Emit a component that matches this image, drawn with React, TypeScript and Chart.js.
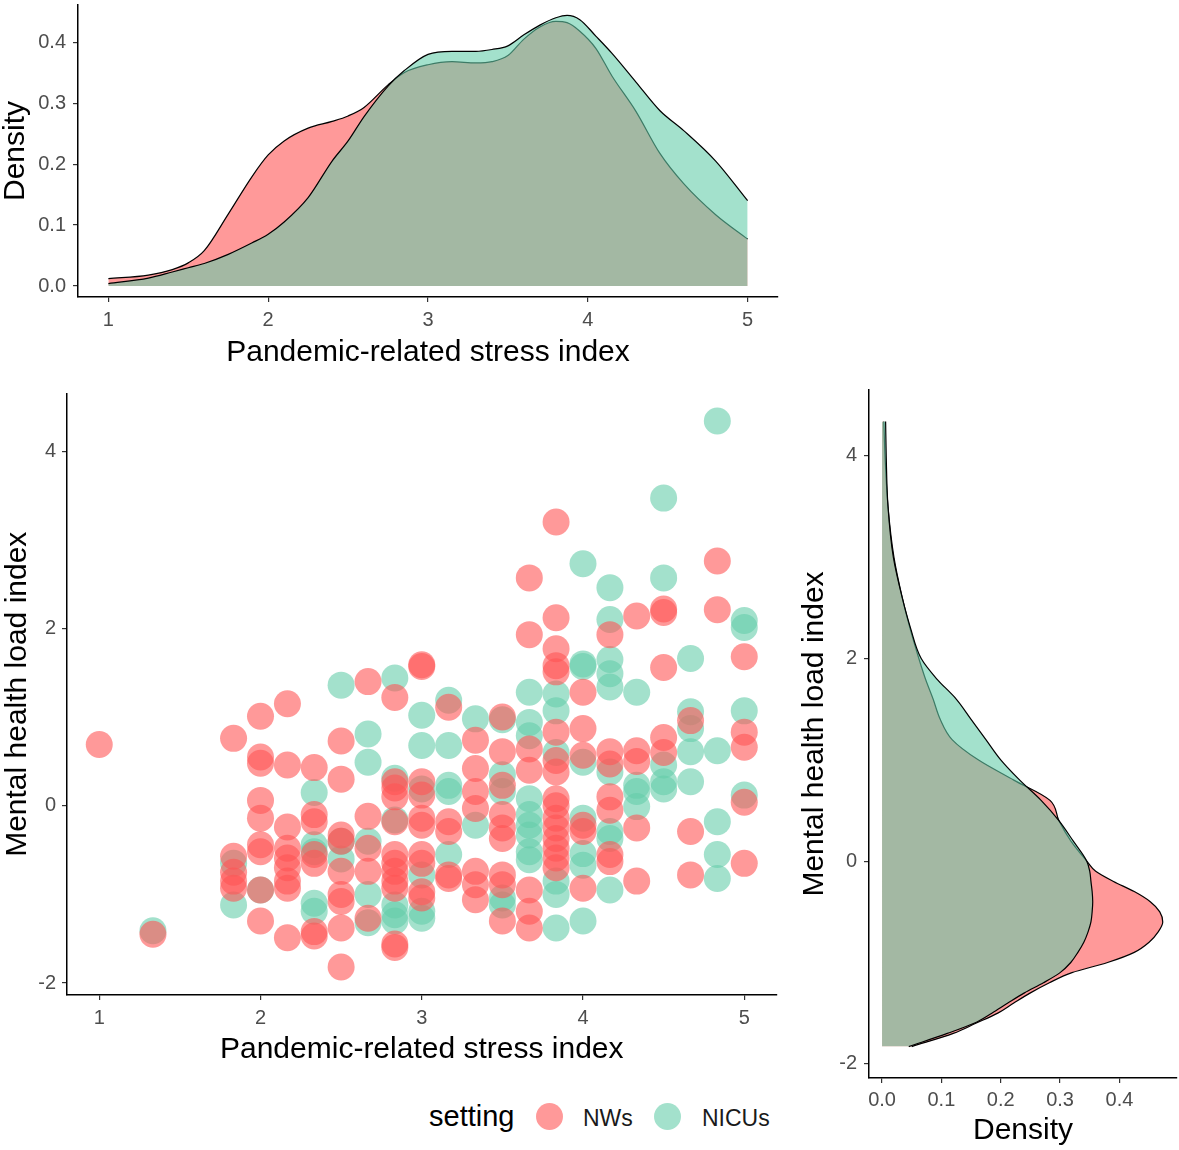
import React, { useEffect, useRef } from "react";
import { Chart, registerables } from "chart.js";

Chart.register(...registerables);

// ---------------- data ----------------
const stressTicks = [1, 2, 3, 4, 5];
const mentalTicks = [-2, 0, 2, 4];
const densityTicksTop = [0, 0.1, 0.2, 0.3, 0.4];
const densityTicksRight = [0, 0.1, 0.2, 0.3, 0.4];

// scatter: [stress index, mental health load values at that stress index]
const nwsColumns: [number, number[]][] = [
  [1.0, [0.69]],
  [1.333, [-1.45]],
  [1.833, [0.76, -0.57, -0.75, -0.85, -0.93]],
  [2.0, [1.01, 0.55, 0.48, 0.06, -0.14, -0.44, -0.52, -0.95, -1.3]],
  [2.167, [1.15, 0.46, -0.24, -0.48, -0.59, -0.7, -0.85, -0.93, -1.49]],
  [2.333, [0.43, -0.1, -0.18, -0.55, -0.65, -1.42, -1.47]],
  [2.5, [0.73, 0.3, -0.33, -0.4, -0.74, -1.0, -1.08, -1.38, -1.82]],
  [2.667, [1.4, -0.12, -0.48, -0.74, -1.27]],
  [2.833, [1.22, 0.27, 0.2, 0.1, -0.18, -0.55, -0.65, -0.74, -0.85, -0.93, -1.56, -1.6]],
  [3.0, [1.59, 1.57, 0.27, 0.12, -0.14, -0.22, -0.55, -0.65, -0.97, -1.04]],
  [3.167, [1.11, -0.18, -0.29, -0.78, -0.82]],
  [3.333, [0.74, 0.42, 0.16, -0.03, -0.74, -0.89, -1.06]],
  [3.5, [1.0, 0.61, 0.23, -0.1, -0.25, -0.37, -0.78, -0.89, -1.3]],
  [3.667, [2.57, 1.93, 0.64, 0.4, -0.95, -1.19, -1.38]],
  [3.833, [3.2, 2.12, 1.77, 1.58, 1.51, 0.83, 0.51, 0.38, 0.08, 0.0, -0.14, -0.25, -0.37, -0.48, -0.59, -0.7]],
  [4.0, [1.28, 0.87, 0.57, -0.22, -0.29, -0.93]],
  [4.167, [1.93, 0.61, 0.47, 0.1, -0.05, -0.55, -0.63]],
  [4.333, [2.14, 0.62, 0.5, -0.25, -0.85]],
  [4.5, [2.22, 2.18, 1.56, 0.77, 0.6]],
  [4.667, [0.96, -0.29, -0.78]],
  [4.833, [2.76, 2.21]],
  [5.0, [1.68, 0.83, 0.66, 0.04, -0.65]],
];

const nicuColumns: [number, number[]][] = [
  [1.333, [-1.41]],
  [1.833, [-0.65, -1.12]],
  [2.0, [-0.95]],
  [2.333, [0.15, -0.44, -0.52, -1.1, -1.19]],
  [2.5, [1.36, -0.4, -0.6]],
  [2.667, [0.81, 0.49, -0.4, -1.0, -1.32]],
  [2.833, [1.44, 0.31, -0.16, -1.12, -1.23, -1.3]],
  [3.0, [1.02, 0.68, 0.19, -0.78, -1.19, -1.27]],
  [3.167, [1.19, 0.68, 0.23, 0.16, -0.55]],
  [3.333, [0.98, -0.22]],
  [3.5, [0.97, 0.35, 0.16, -1.04, -1.12]],
  [3.667, [1.28, 0.94, 0.79, 0.08, -0.1, -0.22, -0.33, -0.52, -0.61]],
  [3.833, [1.26, 1.07, 0.6, -0.85, -1.0, -1.38]],
  [4.0, [2.73, 1.6, 1.57, 0.49, -0.14, -0.54, -0.67, -1.3]],
  [4.167, [2.46, 2.1, 1.65, 1.49, 1.34, 0.38, -0.29, -0.37, -0.95]],
  [4.333, [1.28, 0.23, 0.16, -0.01]],
  [4.5, [3.47, 2.57, 0.46, 0.27, 0.19]],
  [4.667, [1.66, 1.06, 0.87, 0.61, 0.27]],
  [4.833, [4.34, 0.62, -0.18, -0.55, -0.82]],
  [5.0, [2.09, 2.01, 1.07, 0.12]],
];

// top marginal density (stress index)
const stressGrid = [1.0, 1.25, 1.4, 1.5, 1.6, 1.75, 1.9, 2.0, 2.1, 2.25, 2.4, 2.5, 2.6, 2.75, 2.85, 3.0, 3.15, 3.3, 3.4, 3.5, 3.6, 3.7, 3.8, 3.87, 3.95, 4.05, 4.15, 4.3, 4.45, 4.6, 4.8, 5.0];
const nwsStressDensity = [0.012, 0.018, 0.027, 0.038, 0.058, 0.118, 0.18, 0.215, 0.238, 0.259, 0.27, 0.279, 0.293, 0.33, 0.35, 0.363, 0.368, 0.366, 0.368, 0.378, 0.405, 0.425, 0.434, 0.432, 0.418, 0.39, 0.345, 0.287, 0.218, 0.168, 0.117, 0.077];
const nicuStressDensity = [0.004, 0.013, 0.023, 0.03, 0.037, 0.052, 0.071, 0.085, 0.105, 0.145, 0.205, 0.238, 0.278, 0.328, 0.353, 0.38, 0.385, 0.385, 0.388, 0.394, 0.412, 0.428, 0.44, 0.444, 0.437, 0.41, 0.382, 0.335, 0.288, 0.255, 0.205, 0.14];

// right marginal density (mental health load index)
const mentalGrid = [-1.83, -1.7, -1.6, -1.5, -1.4, -1.3, -1.2, -1.1, -1.0, -0.9, -0.8, -0.7, -0.6, -0.5, -0.4, -0.3, -0.2, -0.1, 0, 0.2, 0.4, 0.6, 0.8, 1.0, 1.2, 1.4, 1.6, 1.8, 2.0, 2.3, 2.6, 3.0, 3.5, 4.0, 4.34];
const nwsMentalDensity = [0.05, 0.12, 0.158, 0.195, 0.222, 0.25, 0.282, 0.32, 0.38, 0.425, 0.45, 0.465, 0.473, 0.468, 0.452, 0.425, 0.39, 0.36, 0.345, 0.318, 0.298, 0.283, 0.222, 0.162, 0.118, 0.098, 0.086, 0.073, 0.062, 0.047, 0.034, 0.02, 0.01, 0.005, 0.003];
const nicuMentalDensity = [0.045, 0.11, 0.155, 0.185, 0.212, 0.24, 0.272, 0.3, 0.318, 0.33, 0.34, 0.347, 0.352, 0.354, 0.355, 0.354, 0.352, 0.35, 0.345, 0.322, 0.298, 0.268, 0.232, 0.2, 0.175, 0.15, 0.125, 0.092, 0.066, 0.048, 0.034, 0.019, 0.01, 0.007, 0.006];

const seriesNames = ["NWs", "NICUs"];

// ---------------- styles ----------------
const FONT = "'Liberation Sans', Arial, Helvetica, sans-serif";
const TICK_COLOR = "#4D4D4D";
const PINK = "rgba(255, 85, 85, 0.6)";
const TEAL = "rgba(102, 205, 170, 0.6)";

function makeScale(o: {
  pos: "left" | "bottom";
  min: number;
  max: number;
  ticks: number[];
  fmt: (v: number) => string;
  title: string;
  size: number;
  tickPad: number;
  titlePad: { top: number; bottom: number };
}) {
  return {
    type: "linear",
    position: o.pos,
    min: o.min,
    max: o.max,
    afterBuildTicks: (s: any) => {
      s.ticks = o.ticks.map((v) => ({ value: v }));
    },
    afterFit: (s: any) => {
      if (o.pos === "left") s.width = o.size;
      else s.height = o.size;
      s.paddingTop = 0;
      s.paddingBottom = 0;
      s.paddingLeft = 0;
      s.paddingRight = 0;
    },
    border: { display: true, color: "#000", width: 1.5 },
    grid: {
      display: true,
      drawOnChartArea: false,
      drawTicks: true,
      tickLength: 5,
      color: "#333",
      lineWidth: 1.2,
    },
    ticks: {
      color: TICK_COLOR,
      font: { family: FONT, size: 20 },
      padding: o.tickPad,
      autoSkip: false,
      maxRotation: 0,
      callback: (v: any) => o.fmt(Number(v)),
    },
    title: {
      display: true,
      text: o.title,
      color: "#000",
      font: { family: FONT, size: 30, lineHeight: 1 },
      padding: o.titlePad,
    },
  };
}

const common = {
  animation: false,
  responsive: false,
  devicePixelRatio: 1,
  events: [],
  plugins: { legend: { display: false }, tooltip: { enabled: false } },
};

function densityDataset(label: string, data: any[], color: string, order: number) {
  return {
    label,
    data,
    fill: "origin",
    backgroundColor: color,
    borderColor: "#000",
    borderWidth: 1.2,
    pointRadius: 0,
    cubicInterpolationMode: "monotone",
    order,
  };
}

function topConfig(): any {
  return {
    type: "line",
    data: {
      datasets: [
        densityDataset(seriesNames[0], stressGrid.map((x, i) => ({ x, y: nwsStressDensity[i] })), PINK, 2),
        densityDataset(seriesNames[1], stressGrid.map((x, i) => ({ x, y: nicuStressDensity[i] })), TEAL, 1),
      ],
    },
    options: {
      ...common,
      layout: { padding: { top: 5, right: 12, left: 0, bottom: 0 } },
      scales: {
        x: makeScale({
          pos: "bottom", min: 0.81, max: 5.19, ticks: stressTicks, fmt: (v) => String(v),
          title: "Pandemic-related stress index", size: 73, tickPad: 6, titlePad: { top: 0, bottom: 2 },
        }),
        y: makeScale({
          pos: "left", min: -0.018, max: 0.461, ticks: densityTicksTop, fmt: (v) => v.toFixed(1),
          title: "Density", size: 78, tickPad: 7, titlePad: { top: 1, bottom: 0 },
        }),
      },
    },
  };
}

function toPoints(cols: [number, number[]][]) {
  const pts: { x: number; y: number }[] = [];
  cols.forEach(([x, ys]) => ys.forEach((y) => pts.push({ x, y })));
  return pts;
}

function scatterConfig(): any {
  const ds = (label: string, data: any[], color: string) => ({
    label,
    data,
    backgroundColor: color,
    borderWidth: 0,
    pointRadius: 13.5,
    pointHoverRadius: 13.5,
    pointBorderWidth: 0,
  });
  return {
    type: "scatter",
    data: {
      datasets: [
        ds(seriesNames[0], toPoints(nwsColumns), PINK),
        ds(seriesNames[1], toPoints(nicuColumns), TEAL),
      ],
    },
    options: {
      ...common,
      layout: { padding: { top: 10, right: 12, left: 0, bottom: 0 } },
      scales: {
        x: makeScale({
          pos: "bottom", min: 0.8, max: 5.2, ticks: stressTicks, fmt: (v) => String(v),
          title: "Pandemic-related stress index", size: 75, tickPad: 6, titlePad: { top: 0, bottom: 5 },
        }),
        y: makeScale({
          pos: "left", min: -2.135, max: 4.65, ticks: mentalTicks, fmt: (v) => String(v),
          title: "Mental health load index", size: 67, tickPad: 6, titlePad: { top: 3, bottom: 0 },
        }),
      },
    },
  };
}

function rightConfig(): any {
  return {
    type: "line",
    data: {
      datasets: [
        densityDataset(seriesNames[0], mentalGrid.map((y, i) => ({ x: nwsMentalDensity[i], y })), PINK, 2),
        densityDataset(seriesNames[1], mentalGrid.map((y, i) => ({ x: nicuMentalDensity[i], y })), TEAL, 1),
      ],
    },
    options: {
      ...common,
      indexAxis: "y",
      layout: { padding: { top: 10, right: 2, left: 0, bottom: 0 } },
      scales: {
        x: makeScale({
          pos: "bottom", min: -0.022, max: 0.497, ticks: densityTicksRight, fmt: (v) => v.toFixed(1),
          title: "Density", size: 72, tickPad: 5, titlePad: { top: 0, bottom: 4 },
        }),
        y: makeScale({
          pos: "left", min: -2.14, max: 4.65, ticks: mentalTicks, fmt: (v) => String(v),
          title: "Mental health load index", size: 79, tickPad: 7, titlePad: { top: 10, bottom: 0 },
        }),
      },
    },
  };
}

function ChartBox(props: { make: () => any; left: number; top: number; width: number; height: number }) {
  const ref = useRef<HTMLCanvasElement>(null);
  useEffect(() => {
    const chart = new Chart(ref.current as HTMLCanvasElement, props.make());
    return () => chart.destroy();
  }, []);
  return (
    <canvas
      ref={ref}
      width={props.width}
      height={props.height}
      style={{ position: "absolute", left: props.left, top: props.top, width: props.width, height: props.height }}
    />
  );
}

function Legend() {
  const txt = (left: number, size: number, text: string, color: string) => (
    <div
      style={{
        position: "absolute",
        left,
        top: 1126.7 - 0.8465 * size,
        fontFamily: FONT,
        fontSize: size,
        lineHeight: `${size}px`,
        color,
        whiteSpace: "nowrap",
      }}
    >
      {text}
    </div>
  );
  const dot = (left: number, color: string) => (
    <div
      style={{
        position: "absolute",
        left,
        top: 1102.5,
        width: 27,
        height: 27,
        borderRadius: "50%",
        background: color,
      }}
    />
  );
  return (
    <>
      {txt(429, 29, "setting", "#000")}
      {dot(536, PINK)}
      {txt(583, 23, seriesNames[0], "#1a1a1a")}
      {dot(654, TEAL)}
      {txt(702, 23, seriesNames[1], "#1a1a1a")}
    </>
  );
}

export default function App() {
  return (
    <div style={{ position: "absolute", left: 0, top: 0, width: 1179, height: 1150, background: "#fff", overflow: "hidden" }}>
      <ChartBox make={topConfig} left={0} top={0} width={790} height={370} />
      <ChartBox make={scatterConfig} left={0} top={380} width={790} height={690} />
      <ChartBox make={rightConfig} left={790} top={380} width={389} height={770} />
      <Legend />
    </div>
  );
}
